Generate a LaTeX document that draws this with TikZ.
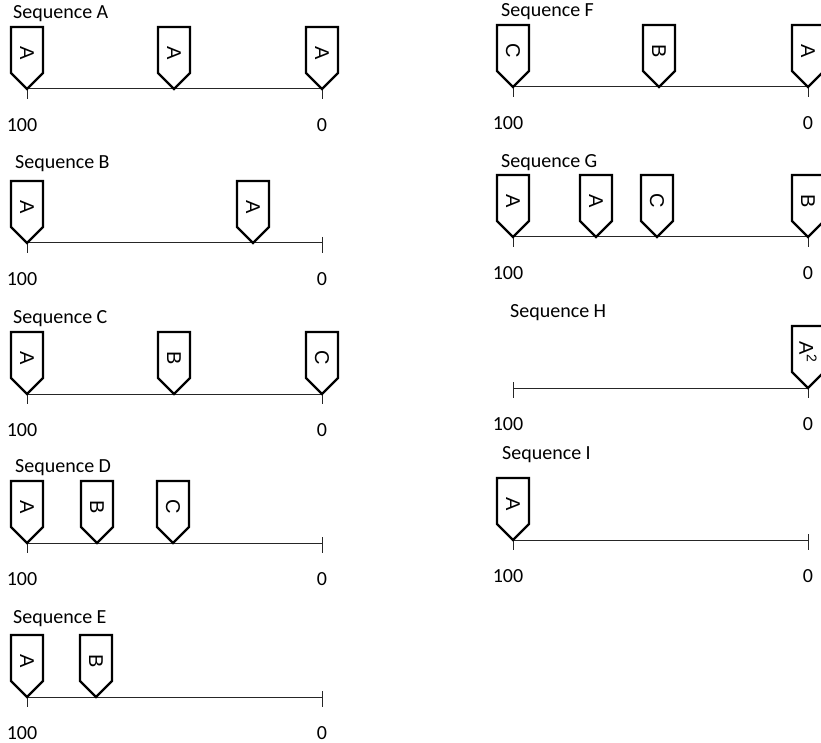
\documentclass[tikz,border=0pt]{standalone}
\usepackage{fontspec}
\setmainfont{Carlito}
\newfontfamily\markfont{Liberation Sans}
\tikzset{
  mkline/.style={draw=black, line width=2.2pt, fill=white, line join=miter},
  axisline/.style={draw=black!85, line width=1pt},
  seqtitle/.style={anchor=base west, font=\fontsize{20}{22}\selectfont, inner sep=0pt},
  numlbl/.style={font=\fontsize{20}{22}\selectfont, inner sep=0pt},
  mktext/.style={rotate=-90, font=\markfont\fontsize{20}{22}\selectfont, inner sep=0pt},
  seqmark/.pic={
    \path[mkline] (0,0) -- (-16,-16) -- (-16,-62) -- (16,-62) -- (16,-16) -- cycle;
    \node[mktext] (-text) at (0,-36) {#1};
  }
}
\newcommand\seqaxis[3]{%
  \coordinate (#1L) at (#2,#3);
  \coordinate (#1R) at ([xshift=295pt]#1L);
  \draw[axisline] (#1L) -- (#1R);
  \draw[axisline] ([yshift=6pt]#1L) -- ([yshift=-10pt]#1L);
  \draw[axisline] ([yshift=6pt]#1R) -- ([yshift=-10pt]#1R);
  \node[numlbl] (#1n) at ([xshift=-5pt,yshift=-36pt]#1L) {100};
  \node[numlbl] (#1z) at ([yshift=-36pt]#1R) {0};
}
\begin{document}
\begin{tikzpicture}[x=1pt,y=-1pt]
\useasboundingbox[fill=white] (0,0) rectangle (821,743);

% Sequence A
\node[seqtitle] (tA) at (13,19) {Sequence A};
\seqaxis{A}{27}{89}
\pic (A1) at (27,89) {seqmark={A}};
\pic (A2) at (174,89) {seqmark={A}};
\pic (A3) at (322,89) {seqmark={A}};

% Sequence B
\node[seqtitle] (tB) at (15,169) {Sequence B};
\seqaxis{B}{27}{243}
\pic (B1) at (27,243) {seqmark={A}};
\pic (B2) at (253,243) {seqmark={A}};

% Sequence C
\node[seqtitle] (tC) at (13,323) {Sequence C};
\seqaxis{C}{27}{394}
\pic (C1) at (27,394) {seqmark={A}};
\pic (C2) at (174,394) {seqmark={B}};
\pic (C3) at (322,394) {seqmark={C}};

% Sequence D
\node[seqtitle] (tD) at (15,472) {Sequence D};
\seqaxis{D}{27}{543}
\pic (D1) at (27,543) {seqmark={A}};
\pic (D2) at (97,543) {seqmark={B}};
\pic (D3) at (173,543) {seqmark={C}};

% Sequence E
\node[seqtitle] (tE) at (13,623) {Sequence E};
\seqaxis{E}{27}{697}
\pic (E1) at (27,697) {seqmark={A}};
\pic (E2) at (96,697) {seqmark={B}};

% Sequence F
\node[seqtitle] (tF) at (501,17) {Sequence F};
\seqaxis{F}{513}{87}
\pic (F1) at (513,87) {seqmark={C}};
\pic (F2) at (659,87) {seqmark={B}};
\pic (F3) at (808,87) {seqmark={A}};

% Sequence G
\node[seqtitle] (tG) at (501,168) {Sequence G};
\seqaxis{G}{513}{237}
\pic (G1) at (513,237) {seqmark={A}};
\pic (G2) at (596,237) {seqmark={A}};
\pic (G3) at (657,237) {seqmark={C}};
\pic (G4) at (808,237) {seqmark={B}};

% Sequence H
\node[seqtitle] (tH) at (510,317) {Sequence H};
\seqaxis{H}{513}{388}
\pic (H1) at (808,388) {seqmark={A\textsuperscript{2}}};

% Sequence I
\node[seqtitle] (tI) at (502,459) {Sequence I};
\seqaxis{I}{513}{540}
\pic (I1) at (513,540) {seqmark={A}};
\end{tikzpicture}
\end{document}
